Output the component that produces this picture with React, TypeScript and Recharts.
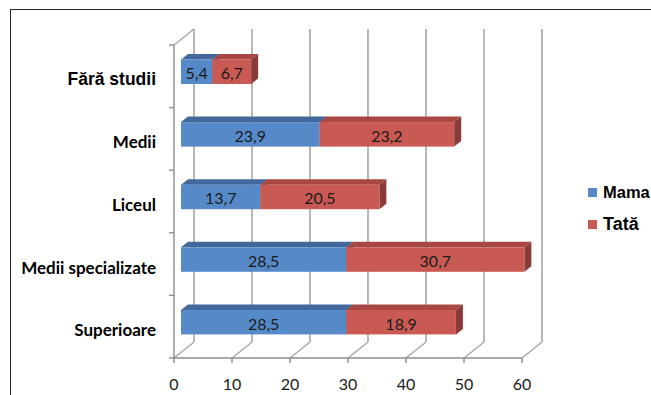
import { Bar, BarChart, CartesianGrid, XAxis, YAxis } from 'recharts';

const categories = ['Fără studii', 'Medii', 'Liceul', 'Medii specializate', 'Superioare'];
const mamaValues = [5.4, 23.9, 13.7, 28.5, 28.5];
const tataValues = [6.7, 23.2, 20.5, 30.7, 18.9];
const xTicks = [0, 10, 20, 30, 40, 50, 60];
const seriesNames = ['Mama', 'Tată'];

const data = categories.map((name, i) => ({ name, mama: mamaValues[i], tata: tataValues[i] }));

// 3D box: back wall offset from the front axes
const WALL_DX = 20;
const WALL_DY = -16;
// bars sit a little behind the front plane, and have their own depth
const BAR_SHIFT_X = 7;
const BAR_SHIFT_Y = -4.5;
const BAR_DX = 7;
const BAR_DY = -5.5;

const GRID = '#a6a6a6';
const AXIS = '#8c8c8c';

const colors = {
  mama: { front: '#5689c7', top: '#43689c', side: '#3a5c8a' },
  tata: { front: '#c95953', top: '#a94843', side: '#8a3b37' },
};

const fmt = (v: number) => String(v).replace('.', ',');

const Bar3D = (props: any) => {
  const { x, y, width, height, payload, field } = props;
  const c = colors[field as 'mama' | 'tata'];
  const fx = x + BAR_SHIFT_X;
  const fy = y + BAR_SHIFT_Y;
  return (
    <g>
      <polygon
        points={`${fx},${fy} ${fx + BAR_DX},${fy + BAR_DY} ${fx + width + BAR_DX},${fy + BAR_DY} ${fx + width},${fy}`}
        fill={c.top}
      />
      <polygon
        points={`${fx + width},${fy} ${fx + width + BAR_DX},${fy + BAR_DY} ${fx + width + BAR_DX},${fy + height + BAR_DY} ${fx + width},${fy + height}`}
        fill={c.side}
      />
      <rect x={fx} y={fy} width={width} height={height} fill={c.front} />
      <text
        x={fx + width / 2}
        y={fy + height / 2 + 1}
        textAnchor='middle'
        dominantBaseline='central'
        fontFamily='Lato'
        fontSize={16}
        fill='#1a1a1a'
      >
        {fmt(payload[field])}
      </text>
    </g>
  );
};

// back-wall gridline plus the floor diagonal running to it
const BackGridLine = (props: any) => {
  const { x1, y1, y2, index } = props;
  return (
    <g key={`g-${index}`}>
      <line x1={x1 + WALL_DX} y1={y1 + WALL_DY} x2={x1 + WALL_DX} y2={y2 + WALL_DY} stroke={GRID} strokeWidth={1.6} />
      <line x1={x1} y1={y2} x2={x1 + WALL_DX} y2={y2 + WALL_DY} stroke={GRID} strokeWidth={1.4} />
      {index === 0 && <line x1={x1} y1={y1} x2={x1 + WALL_DX} y2={y1 + WALL_DY} stroke={GRID} strokeWidth={1.4} />}
    </g>
  );
};

const CategoryTick = (props: any) => {
  const { x, y, payload, index, visibleTicksCount } = props;
  const half = payload.offset || 31.3;
  const first = payload.value === categories[0];
  return (
    <g>
      <line x1={x - 5} y1={y - half} x2={x} y2={y - half} stroke={AXIS} strokeWidth={1.4} />
      {index === visibleTicksCount - 1 && (
        <line x1={x - 5} y1={y + half} x2={x} y2={y + half} stroke={AXIS} strokeWidth={1.4} />
      )}
      <text
        x={x - 18}
        y={y + 3}
        textAnchor='end'
        dominantBaseline='central'
        fontFamily={first ? 'Liberation Sans' : 'Lato'}
        fontWeight='bold'
        fontSize={first ? 17.5 : 17}
        fill='#000'
      >
        {payload.value}
      </text>
    </g>
  );
};

const ValueTick = (props: any) => {
  const { x, y, payload } = props;
  return (
    <text x={x} y={y + 27} textAnchor='middle' fontFamily='Lato' fontSize={16} fill='#1a1a1a'>
      {payload.value}
    </text>
  );
};

const legendItems = [
  { name: seriesNames[0], color: colors.mama.front, top: 183, size: 16.5 },
  { name: seriesNames[1], color: colors.tata.front, top: 214, size: 18 },
];

const App = () => (
  <div style={{ position: 'relative', width: 651, height: 395, overflow: 'hidden', background: '#fff' }}>
    <style>{'body{margin:0}'}</style>
    <div
      style={{
        position: 'absolute',
        left: 10,
        top: 9,
        width: 700,
        height: 450,
        borderTop: '1px solid #262626',
        borderLeft: '1px solid #262626',
      }}
    />
    <BarChart
      width={651}
      height={395}
      data={data}
      layout='vertical'
      margin={{ top: 45, right: 129, bottom: 0, left: 0 }}
      style={{ position: 'absolute', left: 0, top: 0 }}
    >
      <CartesianGrid horizontal={false} vertical={BackGridLine} />
      <XAxis
        type='number'
        domain={[0, 60]}
        ticks={xTicks}
        height={37}
        tickSize={5}
        tickMargin={0}
        axisLine={{ stroke: AXIS, strokeWidth: 1.4 }}
        tickLine={{ stroke: AXIS, strokeWidth: 1.4 }}
        tick={<ValueTick />}
      />
      <YAxis
        type='category'
        dataKey='name'
        width={174}
        tickSize={0}
        tickMargin={0}
        tickLine={false}
        axisLine={{ stroke: AXIS, strokeWidth: 1.4 }}
        tick={<CategoryTick />}
        interval={0}
      />
      <Bar
        dataKey='mama'
        name={seriesNames[0]}
        stackId='s'
        barSize={24.5}
        isAnimationActive={false}
        shape={(p: any) => <Bar3D {...p} field='mama' />}
      />
      <Bar
        dataKey='tata'
        name={seriesNames[1]}
        stackId='s'
        barSize={24.5}
        isAnimationActive={false}
        shape={(p: any) => <Bar3D {...p} field='tata' />}
      />
    </BarChart>
    {legendItems.map((item) => (
      <div
        key={item.name}
        style={{
          position: 'absolute',
          left: 588,
          top: item.top,
          display: 'flex',
          alignItems: 'center',
          fontFamily: 'Liberation Sans',
          fontWeight: 'bold',
          fontSize: item.size,
          whiteSpace: 'nowrap',
          color: '#000',
        }}
      >
        <span style={{ display: 'inline-block', width: 9, height: 9, background: item.color, marginRight: 6 }} />
        {item.name}
      </div>
    ))}
  </div>
);

export default App;
